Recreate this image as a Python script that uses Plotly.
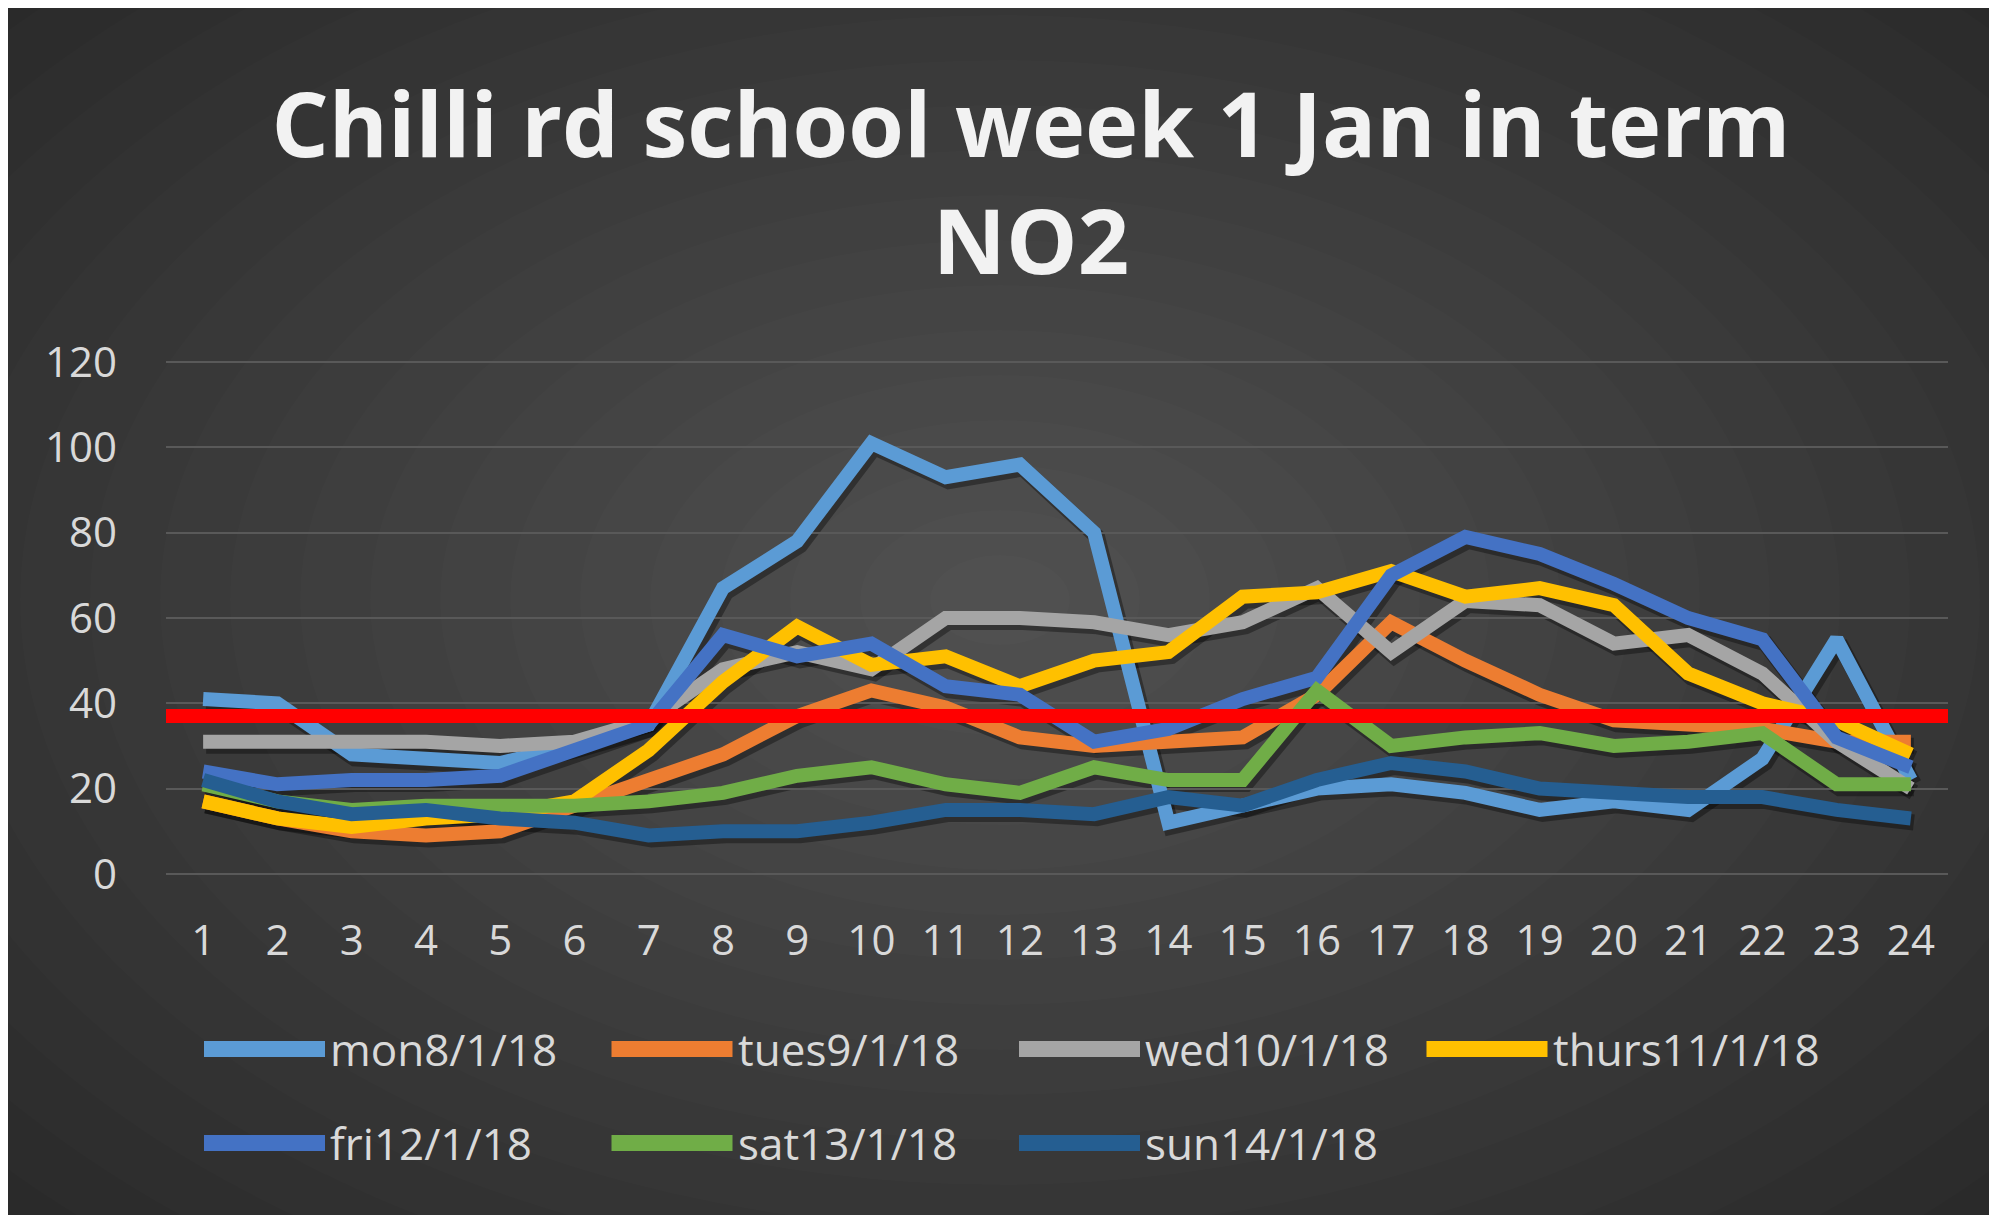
import plotly.graph_objects as go

# hourly NO2 readings, Chilli rd school, week 1 Jan (in term)
hours = list(range(1, 25))
day_names = ['mon8/1/18', 'tues9/1/18', 'wed10/1/18', 'thurs11/1/18',
             'fri12/1/18', 'sat13/1/18', 'sun14/1/18']

mon = [41, 40, 28, 27, 26, 30, 35, 67, 78, 101, 93, 96, 80, 12, 16, 20, 21, 19, 15, 17, 15, 27, 55, 22]
tues = [17, 13, 10, 9, 10, 16, 22, 28, 37, 43, 39, 32, 30, 31, 32, 42, 59, 50, 42, 36, 35, 34, 31, 31]
wed = [31, 31, 31, 31, 30, 31, 36, 48, 52, 48, 60, 60, 59, 56, 59, 67, 52, 64, 63, 54, 56, 47, 31, 20]
thurs = [17, 13, 11, 13, 14, 17, 29, 45, 58, 49, 51, 44, 50, 52, 65, 66, 71, 65, 67, 63, 47, 40, 36, 28]
fri = [24, 21, 22, 22, 23, 29, 35, 56, 51, 54, 44, 42, 31, 34, 41, 46, 70, 79, 75, 68, 60, 55, 32, 25]
sat = [21, 17, 15, 16, 16, 16, 17, 19, 23, 25, 21, 19, 25, 22, 22, 43, 30, 32, 33, 30, 31, 33, 21, 21]
sun = [22, 17, 14, 15, 13, 12, 9, 10, 10, 12, 15, 15, 14, 18, 16, 22, 26, 24, 20, 19, 18, 18, 15, 13]

limit_no2 = 37

series = [mon, tues, wed, thurs, fri, sat, sun]
colours = ['#5B9BD5', '#ED7D31', '#A5A5A5', '#FFC000', '#4472C4', '#70AD47', '#255E91']

# figure size (page body margin of 8px gives the white strip top/left)
W, H = 1989, 1207
# plot area in figure pixels (a few px wider/taller for the shadow offset)
L, R, T, B = 158, 1943, 352, 872
sdx = 3 / (R - L)
sdy = 4 / (B - T)


def px_x(px):
    return (px - L) / (R - L)


def px_y(py):
    return (B - py) / (B - T)


fig = go.Figure()

# soft drop shadows (drawn on an offset, hidden pair of axes)
for vals in series:
    fig.add_trace(go.Scatter(x=hours, y=vals, mode='lines', xaxis='x', yaxis='y',
                             line=dict(color='rgba(0,0,0,0.35)', width=16),
                             hoverinfo='skip', showlegend=False))

for name, vals, col in zip(day_names, series, colours):
    fig.add_trace(go.Scatter(x=hours, y=vals, mode='lines', name=name,
                             xaxis='x2', yaxis='y2',
                             line=dict(color=col, width=14),
                             showlegend=False))

shapes = []
# radial highlight over the dark background
n_steps = 20
for k in range(n_steps):
    f = 1 - k / n_steps
    rx, ry = 1400 * f, 900 * f
    shapes.append(dict(type='circle', xref='paper', yref='paper', layer='below',
                       x0=px_x(992 - rx), x1=px_x(992 + rx),
                       y0=px_y(592 + ry), y1=px_y(592 - ry),
                       fillcolor='rgba(255,255,255,0.01)', line=dict(width=0)))

# limit line
shapes.append(dict(type='line', xref='x2 domain', yref='y2', x0=0, x1=1,
                   y0=limit_no2, y1=limit_no2, layer='above',
                   line=dict(color='#FF0000', width=14)))

# legend swatches + labels
annotations = []
for i, (name, col) in enumerate(zip(day_names, colours)):
    x0 = 196 + (i % 4) * 407.5
    yc = 1041 + (i // 4) * 94
    shapes.append(dict(type='line', xref='paper', yref='paper',
                       x0=px_x(x0), x1=px_x(x0 + 121), y0=px_y(yc), y1=px_y(yc),
                       line=dict(color=col, width=16)))
    annotations.append(dict(xref='paper', yref='paper', x=px_x(x0 + 124), y=px_y(yc),
                            xanchor='left', yanchor='middle', showarrow=False,
                            text=name, font=dict(family='Open Sans', size=44, color='#D9D9D9')))

tick_font = dict(family='Open Sans', size=42, color='#D9D9D9')

fig.update_layout(
    width=W, height=H,
    margin=dict(l=L, r=W - R, t=T, b=H - B),
    paper_bgcolor='#282828',
    plot_bgcolor='rgba(0,0,0,0)',
    title=dict(text='Chilli rd school week 1 Jan in term<br>NO2',
               x=1023 / W, xanchor='center', y=1 - 149 / H, yanchor='middle', yref='container',
               font=dict(family='Open Sans', size=90, color='#F2F2F2', weight='bold')),
    xaxis=dict(domain=[sdx, 1], range=[0.5, 24.5], visible=False, anchor='y'),
    yaxis=dict(domain=[0, 1 - sdy], range=[-0.5, 120.5], visible=False, anchor='x'),
    xaxis2=dict(domain=[0, 1 - sdx], range=[0.5, 24.5], anchor='y2',
                tickvals=hours, showgrid=False, zeroline=False, showline=False,
                tickfont=tick_font, ticklabelstandoff=36),
    yaxis2=dict(domain=[sdy, 1], range=[-0.5, 120.5], tickvals=[0, 20, 40, 60, 80, 100, 120],
                anchor='x2', showgrid=True, gridcolor='#595959', gridwidth=2,
                zeroline=False, showline=False,
                tickfont=tick_font, ticklabelstandoff=48),
    shapes=shapes,
    annotations=annotations,
    showlegend=False,
)

fig.write_html('out.html')
